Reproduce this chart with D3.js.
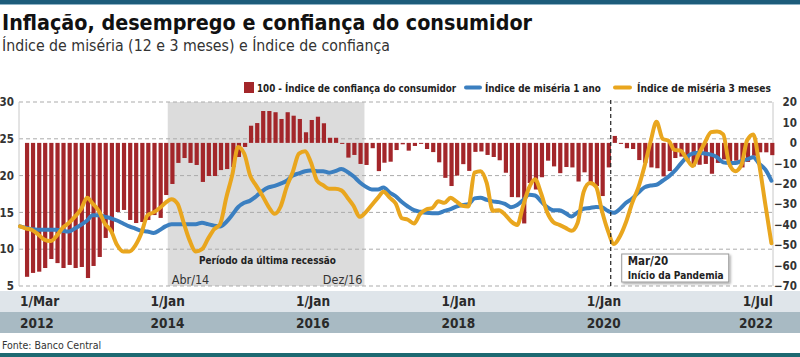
<!DOCTYPE html>
<html><head><meta charset="utf-8">
<script src="https://cdn.jsdelivr.net/npm/d3@7"></script>
<style>
html,body{margin:0;padding:0;background:#fff;}
svg{display:block;}
text{font-family:"Liberation Sans Narrow","DejaVu Sans Condensed","Roboto",sans-serif;}
</style></head>
<body>
<svg id="c" width="800" height="357"></svg>
<script>
// ---------- DATA ----------
const startMonth = new Date(2012, 2, 1);   // Mar 2012
const endMonth = new Date(2022, 6, 1);     // Jul 2022

// Índice de miséria 1 ano (left axis), monthly Mar/2012 .. Jul/2022
const miseria1ano = [
 13.1,12.9,12.7,12.65,12.65,12.65,12.65,12.5,12.4,12.8,
 13.3,13.9,14.6,14.6,14.4,14.2,13.9,13.5,13.1,12.8,
 12.5,12.4,12.2,12.6,13.1,13.4,13.4,13.4,13.4,13.4,
 13.6,13.4,13.2,13.1,13.7,14.7,15.7,16.3,16.6,17.2,
 17.9,18.4,18.6,18.9,19.3,20.0,20.3,20.6,20.7,20.6,
 20.6,20.4,20.6,20.9,20.5,19.9,19.1,18.5,18.1,18.1,
 18.4,17.7,17.2,16.4,15.8,15.3,15.1,14.95,14.9,14.9,
 15.2,15.45,15.8,16.0,16.1,16.9,17.0,16.7,16.5,16.4,
 16.15,15.7,16.0,16.7,17.4,17.3,16.5,15.7,15.3,15.3,
 14.9,14.45,15.0,15.5,15.6,15.75,15.7,15.2,14.95,15.5,
 16.3,16.9,17.7,18.4,18.65,18.75,19.3,19.9,20.6,21.6,
 22.5,23.0,23.1,23.0,22.85,22.5,21.8,21.7,21.7,22.0,
 22.2,22.5,21.6,20.8,19.3
];

// Índice de miséria 3 meses (left axis), monthly Mar/2012 .. Jul/2022
const miseria3meses = [
 13.1,12.8,12.6,12.0,11.3,11.1,11.8,12.9,13.55,14.4,
 15.4,17.0,16.2,15.2,13.5,12.5,10.6,9.7,9.7,10.5,
 12.2,14.6,15.0,15.6,16.3,16.8,16.2,13.6,11.2,9.7,
 10.0,11.4,12.7,13.4,17.0,20.2,23.9,23.0,20.0,18.6,
 17.3,15.8,14.8,15.8,18.5,20.5,23.0,23.3,21.8,19.3,
 18.7,18.2,18.2,18.0,17.0,15.9,14.4,15.0,16.0,17.0,
 17.8,17.0,16.2,14.2,14.0,13.5,14.8,15.4,15.6,16.5,
 16.3,17.0,16.5,15.9,15.8,20.4,20.6,19.0,15.2,15.3,
 14.7,13.8,13.3,16.0,18.3,19.5,17.6,15.0,13.7,13.3,
 12.9,12.5,13.6,17.8,19.0,18.5,15.3,12.5,10.7,11.8,
 13.7,16.3,18.4,21.2,24.6,27.3,25.0,24.7,23.5,23.4,
 22.3,21.3,22.9,24.5,25.9,26.0,25.6,21.6,20.6,21.5,
 24.8,25.6,21.5,16.0,10.8
];

// 100 - Índice de confiança do consumidor (right axis), monthly Apr/2012 .. Jul/2022
const confianca = [
 -65.5,-63.6,-63.0,-61.2,-56.8,-58.8,-61.2,-59.7,-61.2,-60.7,
 -66.1,-60.2,-55.8,-46.5,-43.6,-33.8,-32.8,-37.7,-39.2,-38.7,
 -37.7,-35.3,-36.7,-25.5,-20.1,-9.8,-7.4,-9.8,-10.8,-19.1,
 -16.2,-16.2,-13.3,-12.8,-11.8,-6.9,-2.0,8.4,9.7,15.6,
 15.6,15.0,11.7,15.0,13.3,11.7,5.2,11.2,12.8,9.6,
 2.5,2.5,-0.5,-7.2,-5.9,-10.3,-10.8,-2.6,-13.8,-9.7,
 -9.2,-3.5,-0.7,-3.8,-1.5,-0.3,-3.0,-4.5,-9.5,-17.1,
 -21.1,-16.0,-10.4,-13.7,-4.4,-4.2,-5.9,-6.9,-8.5,-14.6,
 -26.5,-26.6,-39.4,-19.6,-22.8,-16.8,-8.7,-11.5,-14.8,-11.8,
 -12.0,-18.9,-14.4,-20.6,-21.1,-26.0,-12.0,3.4,-0.5,-2.6,
 -3.0,-8.4,-9.8,-12.0,-12.4,-16.4,-13.8,-7.4,-6.7,-8.5,
 -11.5,-10.7,-10.3,-15.1,-9.8,-8.1,-11.5,-8.7,-12.0,-9.3,
 -6.3,-4.6,-4.6,-6.0
];

const leftTicks = [5, 10, 15, 20, 25, 30];
const rightTicks = [20, 10, 0, -10, -20, -30, -40, -50, -60, -70];
const xTickDates = [new Date(2012,2,1), new Date(2014,0,1), new Date(2016,0,1), new Date(2018,0,1), new Date(2020,0,1), new Date(2022,6,1)];
const xTickDay = ["1/Mar", "1/Jan", "1/Jan", "1/Jan", "1/Jan", "1/Jul"];
const xTickYear = ["2012", "2014", "2016", "2018", "2020", "2022"];

const recession = {start: new Date(2014, 2, 13), end: new Date(2016, 10, 25), label: "Período da última recessão", startLabel: "Abr/14", endLabel: "Dez/16"};
const pandemic = {date: new Date(2020, 3, 15), line1: "Mar/20", line2: "Início da Pandemia"};

const title = "Inflação, desemprego e confiança do consumidor";
const subtitle = "Índice de miséria (12 e 3 meses) e Índice de confiança";
const legendItems = ["100 - Índice de confiança do consumidor", "Índice de miséria 1 ano", "Índice de miséria 3 meses"];
const source = "Fonte: Banco Central";

// ---------- DRAW ----------
const svg = d3.select("#c");
const COL_BAR = "#a3262a", COL_BLUE = "#3b7fc0", COL_ORANGE = "#e9a61e";
const plotTop = 102, plotBottom = 286, plotLeft = 19, plotRight = 773;

const months = d3.timeMonth.range(startMonth, d3.timeMonth.offset(endMonth, 1));
const barMonths = months.slice(1);

const x = d3.scaleTime().domain([startMonth, endMonth]).range([20, 771.4]);
const yL = d3.scaleLinear().domain([5, 30]).range([plotBottom, plotTop]);
const yR = d3.scaleLinear().domain([-70, 20]).range([plotBottom, plotTop]);

// fit a text's font-size so that its natural width is the target width (max size capped)
function fit(sel, target, maxSize) {
  const node = sel.node();
  const w = node.getComputedTextLength();
  const fs = parseFloat(sel.attr("font-size")) || 12;
  if (w > 0) sel.attr("font-size", Math.min(maxSize || 99, fs * target / w).toFixed(2));
  return sel;
}

const defs = svg.append("defs");
const f = defs.append("filter").attr("id","sh").attr("x","-20%").attr("y","-20%").attr("width","150%").attr("height","160%");
f.append("feDropShadow").attr("dx",1.5).attr("dy",1.5).attr("stdDeviation",1.2).attr("flood-color","#000").attr("flood-opacity",0.35);

// top / bottom bars
svg.append("rect").attr("x",0).attr("y",0).attr("width",800).attr("height",4).attr("fill","#1d5c7b");
svg.append("rect").attr("x",0).attr("y",4).attr("width",800).attr("height",1).attr("fill","#8fb3c6");
svg.append("rect").attr("x",0).attr("y",353).attr("width",800).attr("height",4).attr("fill","#1d6a72");

// title
fit(svg.append("text").attr("x",2).attr("y",30).attr("font-size",24).attr("font-weight","bold").attr("fill","#111").text(title), 530, 26);
fit(svg.append("text").attr("x",2).attr("y",51).attr("font-size",17).attr("fill","#333").text(subtitle), 388, 19);

// legend
const lg = svg.append("g").attr("font-weight","bold").attr("fill","#222");
lg.append("rect").attr("x",244).attr("y",82).attr("width",10).attr("height",11).attr("fill",COL_BAR);
fit(lg.append("text").attr("x",257).attr("y",92).attr("font-size",12.5).text(legendItems[0]), 199, 13.5);
lg.append("line").attr("x1",466).attr("x2",480).attr("y1",87.5).attr("y2",87.5).attr("stroke",COL_BLUE).attr("stroke-width",4).attr("stroke-linecap","round");
fit(lg.append("text").attr("x",485).attr("y",92).attr("font-size",12.5).text(legendItems[1]), 116, 13.5);
lg.append("line").attr("x1",615).attr("x2",630).attr("y1",87.5).attr("y2",87.5).attr("stroke",COL_ORANGE).attr("stroke-width",4).attr("stroke-linecap","round");
fit(lg.append("text").attr("x",637).attr("y",92).attr("font-size",12.5).text(legendItems[2]), 134, 13.5);

// recession shading
svg.append("rect").attr("x",x(recession.start)).attr("y",plotTop).attr("width",x(recession.end)-x(recession.start))
  .attr("height",plotBottom-plotTop).attr("fill","#dcdcdc");

// gridlines
svg.append("g").selectAll("line").data(leftTicks).join("line")
  .attr("x1",plotLeft).attr("x2",plotRight).attr("y1",d=>yL(d)).attr("y2",d=>yL(d))
  .attr("stroke","#ababab").attr("stroke-width",1).attr("stroke-dasharray","4,3");
// frame verticals
svg.append("line").attr("x1",plotLeft).attr("x2",plotLeft).attr("y1",plotTop).attr("y2",plotBottom).attr("stroke","#c8c8c8");
svg.append("line").attr("x1",plotRight).attr("x2",plotRight).attr("y1",plotTop).attr("y2",plotBottom).attr("stroke","#c8c8c8");

// left axis
const axL = svg.append("g").attr("transform",`translate(14,0)`).call(d3.axisLeft(yL).tickValues(leftTicks).tickSize(0).tickPadding(0));
axL.select(".domain").remove();
axL.selectAll("text").attr("font-size",11.5).attr("font-weight","bold").attr("fill","#333").attr("font-family",null);

// right axis
const axR = svg.append("g").attr("transform",`translate(797,0)`).call(d3.axisLeft(yR).tickValues(rightTicks).tickSize(0).tickPadding(0).tickFormat(d3.format("d")));
axR.select(".domain").remove();
axR.selectAll("text").attr("font-size",11.5).attr("font-weight","bold").attr("fill","#333").attr("font-family",null);

// bars
svg.append("g").selectAll("rect").data(barMonths.map((m,i)=>({m, v: confianca[i]}))).join("rect")
  .attr("x",d=>x(d.m)-1.2).attr("width",4.2)
  .attr("y",d=>Math.min(yR(d.v), yR(0)))
  .attr("height",d=>Math.max(1, Math.abs(yR(d.v)-yR(0))))
  .attr("fill",COL_BAR);

// lines
const line = d3.line().x((d,i)=>x(months[i])).curve(d3.curveMonotoneX);
svg.append("path").datum(miseria1ano).attr("d", line.y(d=>yL(d)))
  .attr("fill","none").attr("stroke",COL_BLUE).attr("stroke-width",4).attr("stroke-linejoin","round").attr("stroke-linecap","round");
svg.append("path").datum(miseria3meses).attr("d", line.y(d=>yL(d)))
  .attr("fill","none").attr("stroke",COL_ORANGE).attr("stroke-width",4).attr("stroke-linejoin","round").attr("stroke-linecap","round");

// recession annotation
fit(svg.append("text").attr("x",199).attr("y",264).attr("font-size",13).attr("font-weight","bold").attr("fill","#222").text(recession.label), 137, 14);
svg.append("text").attr("x",x(recession.start)+4).attr("y",284).attr("font-size",12.5).attr("fill","#333").text(recession.startLabel);
svg.append("text").attr("x",x(recession.end)-2).attr("y",284).attr("text-anchor","end").attr("font-size",12.5).attr("fill","#333").text(recession.endLabel);

// pandemic annotation
const px = x(pandemic.date);
svg.append("line").attr("x1",px).attr("x2",px).attr("y1",plotTop-2).attr("y2",plotBottom).attr("stroke","#222").attr("stroke-width",1.2).attr("stroke-dasharray","4,3");
svg.append("rect").attr("x",px+11).attr("y",254).attr("width",107).attr("height",28).attr("fill","#fff").attr("stroke","#9a9a9a").attr("stroke-width",1).attr("filter","url(#sh)");
svg.append("text").attr("x",px+17).attr("y",265).attr("font-size",11.5).attr("font-weight","bold").attr("fill","#222").text(pandemic.line1);
fit(svg.append("text").attr("x",px+17).attr("y",278.5).attr("font-size",11.5).attr("font-weight","bold").attr("fill","#222").text(pandemic.line2), 96, 11.5);

// bottom time axis bands
svg.append("rect").attr("x",0).attr("y",291).attr("width",800).attr("height",21).attr("fill","#dfe5ea");
svg.append("rect").attr("x",0).attr("y",312).attr("width",800).attr("height",21).attr("fill","#a8bac3");
const ax = svg.append("g").attr("font-size",13.5).attr("font-weight","bold").attr("fill","#2a2a2a");
xTickDates.forEach((d,i)=>{
  const last = i === xTickDates.length-1, first = i === 0;
  const xx = first ? x(d) : last ? x(d)+1.5 : x(d)-3;
  const anchor = last ? "end" : "start";
  ax.append("text").attr("x",xx).attr("y",306).attr("text-anchor",anchor).text(xTickDay[i]);
  ax.append("text").attr("x",xx).attr("y",327.5).attr("text-anchor",anchor).text(xTickYear[i]);
});

svg.append("text").attr("x",2).attr("y",349).attr("font-size",10.5).attr("fill","#333").text(source);
</script>
</body></html>
